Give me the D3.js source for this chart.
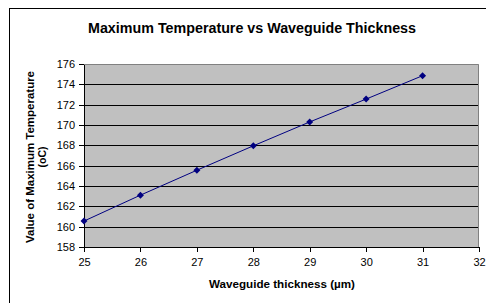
<!DOCTYPE html>
<html>
<head>
  <script src="https://d3js.org/d3.v7.min.js"></script>
  <style>
    body { margin: 0; background: #fff; }
    svg text { font-family: Arial, "Liberation Sans", sans-serif; fill: #000; }
    .axis path, .axis line { stroke: #000; shape-rendering: crispEdges; }
    .axis text { font-size: 11px; }
  </style>
</head>
<body>
  <svg width="486" height="303"></svg>
  <script>
    // thickness (um) vs max temperature (oC)
    var thickness = [25, 26, 27, 28, 29, 30, 31];
    var maxTemp = [160.55, 163.1, 165.55, 167.95, 170.3, 172.55, 174.85];
    var xTicks = [25, 26, 27, 28, 29, 30, 31, 32];
    var yTicks = [158, 160, 162, 164, 166, 168, 170, 172, 174, 176];

    var svg = d3.select("svg"),
      margin = { top: 64, right: 7, bottom: 56, left: 84 },
      width = 479 - margin.left,
      height = 247 - margin.top;

    // outer chart frame
    svg.append("rect")
      .attr("x", 9.5).attr("y", 8.5)
      .attr("width", 490).attr("height", 300)
      .attr("fill", "none").attr("stroke", "#000").attr("stroke-width", 1);

    svg.append("text")
      .attr("x", 252).attr("y", 33)
      .attr("text-anchor", "middle")
      .attr("textLength", 328).attr("lengthAdjust", "spacingAndGlyphs")
      .style("font-size", "14px").style("font-weight", "bold")
      .text("Maximum Temperature vs Waveguide Thickness");

    var x = d3.scaleLinear().domain([25, 32]).range([0, width]),
      y = d3.scaleLinear().domain([158, 176]).range([height, 0]);

    var g = svg.append("g")
      .attr("transform", "translate(" + margin.left + "," + margin.top + ")");

    g.append("rect")
      .attr("width", width).attr("height", height)
      .attr("fill", "#c0c0c0");

    // horizontal gridlines
    g.selectAll(".grid")
      .data(yTicks.filter(function(d) { return d > 158 && d < 176; }))
      .enter().append("line")
      .attr("x1", 0).attr("x2", width)
      .attr("y1", function(d) { return Math.round(y(d)) + 0.5; })
      .attr("y2", function(d) { return Math.round(y(d)) + 0.5; })
      .attr("stroke", "#000")
      .attr("stroke-width", 1);

    // plot border top/right
    g.append("path")
      .attr("d", "M0,0.5H" + (width - 0.5) + "V" + height)
      .attr("fill", "none").attr("stroke", "#808080");

    g.append("g")
      .attr("class", "axis")
      .attr("transform", "translate(0," + height + ")")
      .call(d3.axisBottom(x).tickValues(xTicks).tickFormat(d3.format("d"))
        .tickSize(5).tickSizeOuter(0).tickPadding(6));

    g.append("g")
      .attr("class", "axis")
      .call(d3.axisLeft(y).tickValues(yTicks).tickFormat(d3.format("d"))
        .tickSize(5).tickSizeOuter(0).tickPadding(4));

    var line = d3.line()
      .x(function(d, i) { return x(thickness[i]); })
      .y(function(d) { return y(d); });

    g.append("path")
      .datum(maxTemp)
      .attr("d", line)
      .attr("fill", "none")
      .attr("stroke", "#000080")
      .attr("stroke-width", 1);

    g.selectAll(".pt")
      .data(maxTemp)
      .enter().append("path")
      .attr("transform", function(d, i) { return "translate(" + x(thickness[i]) + "," + y(d) + ")"; })
      .attr("d", "M0,-3.5L3.5,0L0,3.5L-3.5,0Z")
      .attr("fill", "#000080");

    svg.append("text")
      .attr("x", 282).attr("y", 288)
      .attr("text-anchor", "middle")
      .attr("textLength", 146).attr("lengthAdjust", "spacingAndGlyphs")
      .style("font-size", "10.5px").style("font-weight", "bold")
      .text("Waveguide thickness (\u00b5m)");

    var yt = svg.append("g")
      .attr("transform", "translate(34,157) rotate(-90)")
      .style("font-size", "10.5px").style("font-weight", "bold");
    yt.append("text").attr("x", 0).attr("y", 0)
      .attr("text-anchor", "middle")
      .attr("textLength", 172).attr("lengthAdjust", "spacingAndGlyphs")
      .text("Value of Maximum Temperature");
    yt.append("text").attr("x", 0).attr("y", 12)
      .attr("text-anchor", "middle")
      .text("(oC)");
  </script>
</body>
</html>
